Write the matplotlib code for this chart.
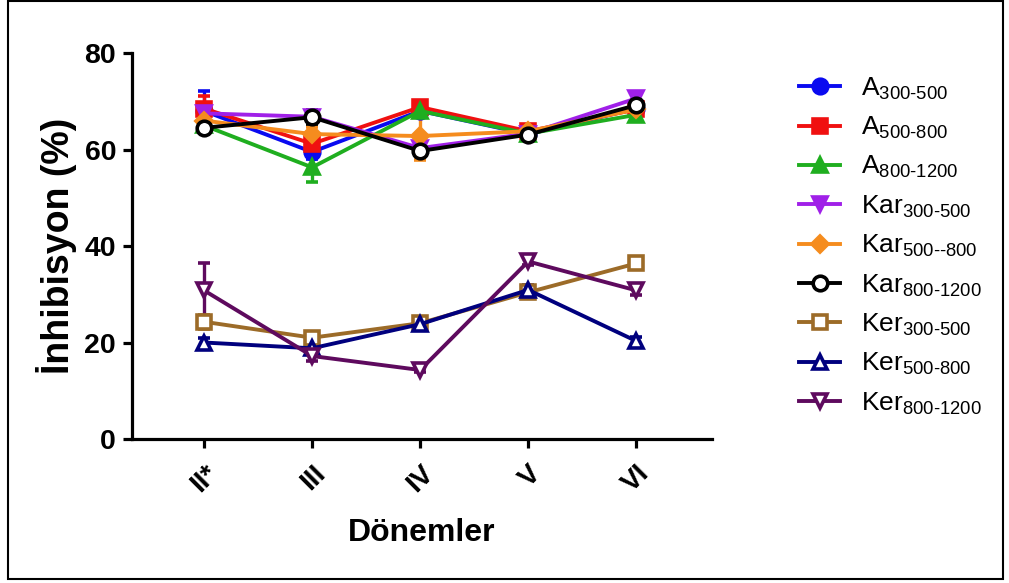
import matplotlib
matplotlib.use('Agg')
import matplotlib.pyplot as plt
from matplotlib.patches import Rectangle

# ── Data: inhibition (%) per period, mean and error ──────────────────────────
periods = ['II*', 'III', 'IV', 'V', 'VI']

a_300_500    = [68.0, 59.5, 68.0, 63.2, 68.5]
a_500_800    = [68.5, 61.2, 68.8, 63.8, 68.3]
a_800_1200   = [65.0, 56.3, 68.0, 63.3, 67.2]
kar_300_500  = [67.5, 66.8, 60.3, 63.3, 70.6]
kar_500_800  = [66.0, 63.2, 62.8, 63.8, 68.3]
kar_800_1200 = [64.5, 66.7, 59.7, 63.1, 69.2]
ker_300_500  = [24.3, 21.0, 24.0, 30.4, 36.4]
ker_500_800  = [20.0, 18.8, 23.8, 30.9, 20.3]
ker_800_1200 = [30.8, 17.2, 14.3, 36.8, 30.8]

a_300_500_err    = [4.2, 1.5, 1.0, 0.5, 1.0]
a_500_800_err    = [2.5, 2.0, 1.0, 0.5, 1.0]
a_800_1200_err   = [1.0, 3.0, 1.0, 0.5, 0.8]
kar_300_500_err  = [0.8, 0.5, 0.5, 0.5, 1.0]
kar_500_800_err  = [1.5, 1.5, 5.0, 0.5, 0.8]
kar_800_1200_err = [0.8, 1.5, 0.5, 0.5, 1.0]
ker_300_500_err  = [1.5, 1.0, 0.8, 1.0, 1.0]
ker_500_800_err  = [1.0, 1.0, 0.8, 1.0, 0.8]
ker_800_1200_err = [5.7, 1.0, 0.5, 0.8, 1.0]

labels = [
    r'A$_{\mathrm{300\text{-}500}}$',
    r'A$_{\mathrm{500\text{-}800}}$',
    r'A$_{\mathrm{800\text{-}1200}}$',
    r'Kar$_{\mathrm{300\text{-}500}}$',
    r'Kar$_{\mathrm{500\text{-}\text{-}800}}$',
    r'Kar$_{\mathrm{800\text{-}1200}}$',
    r'Ker$_{\mathrm{300\text{-}500}}$',
    r'Ker$_{\mathrm{500\text{-}800}}$',
    r'Ker$_{\mathrm{800\text{-}1200}}$',
]

# (values, errors, color, marker, filled)
series = [
    (a_300_500,    a_300_500_err,    '#0a0af0', 'o', True),
    (a_500_800,    a_500_800_err,    '#f01010', 's', True),
    (a_800_1200,   a_800_1200_err,   '#1fae1f', '^', True),
    (kar_300_500,  kar_300_500_err,  '#a020e8', 'v', True),
    (kar_500_800,  kar_500_800_err,  '#f58c1e', 'D', True),
    (kar_800_1200, kar_800_1200_err, '#000000', 'o', False),
    (ker_300_500,  ker_300_500_err,  '#9c6b28', 's', False),
    (ker_500_800,  ker_500_800_err,  '#00007e', '^', False),
    (ker_800_1200, ker_800_1200_err, '#5e0a5e', 'v', False),
]

# ── Style ─────────────────────────────────────────────────────────────────────
plt.rcParams['font.family'] = ['Liberation Sans', 'DejaVu Sans']
plt.rcParams['mathtext.fontset'] = 'custom'
plt.rcParams['mathtext.rm'] = 'Liberation Sans'
plt.rcParams['mathtext.it'] = 'Liberation Sans:italic'
plt.rcParams['mathtext.bf'] = 'Liberation Sans:bold'

LW = 2.8
fig = plt.figure(figsize=(10.09, 5.83), dpi=100)
ax = fig.add_axes([0.1308, 0.247, 0.5748, 0.662])

x = list(range(len(periods)))
for (vals, err, color, marker, filled), lab in zip(series, labels):
    ms = 10.5 if marker != 'D' else 8
    ax.errorbar(x, vals, yerr=err, color=color, lw=LW, marker=marker,
                markersize=ms, markeredgewidth=2.6,
                markerfacecolor=color if filled else 'white',
                markeredgecolor=color, ecolor=color, elinewidth=2.4,
                capsize=4.5, capthick=2.4, label=lab)

ax.set_xlim(-0.667, 4.70)
ax.set_ylim(0, 80)
ax.set_yticks([0, 20, 40, 60, 80])
ax.set_xticks(x)
ax.set_xticklabels(periods, rotation=45, ha='right', va='top',
                   rotation_mode='anchor', fontsize=20, fontweight='bold')
for t in ax.get_yticklabels():
    t.set_fontsize(20.5)
    t.set_fontweight('bold')

for spine in ['top', 'right']:
    ax.spines[spine].set_visible(False)
for spine in ['left', 'bottom']:
    ax.spines[spine].set_linewidth(2.3)
ax.tick_params(axis='both', length=6.5, width=2.3)
ax.tick_params(axis='y', pad=5)
ax.tick_params(axis='x', pad=9)

ax.set_ylabel('İnhibisyon (%)', fontsize=27, fontweight='bold', labelpad=5)
ax.set_xlabel('Dönemler', fontsize=23, fontweight='bold', labelpad=15)

handles, labs = ax.get_legend_handles_labels()
handles = [h[0] for h in handles]
ax.legend(handles, labs, loc='center left', bbox_to_anchor=(0.779, 0.578),
          bbox_transform=fig.transFigure, frameon=False, fontsize=19,
          borderpad=0, handlelength=1.55, handletextpad=0.8,
          labelspacing=0.5)

# outer frame round the whole figure
fig.patches.append(Rectangle((0.008, 0.007), 0.986, 0.991, fill=False,
                             lw=1.5, edgecolor='black',
                             transform=fig.transFigure, figure=fig))

plt.savefig('out.png', dpi=100)
plt.close()
